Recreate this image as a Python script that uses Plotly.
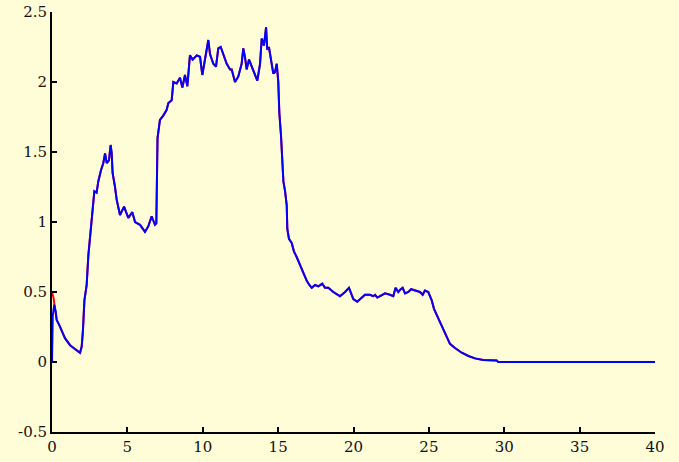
import plotly.graph_objects as go

# Blue series
blue_x = [0, 0.05, 0.15, 0.25, 0.31, 0.5, 0.86, 1.2, 1.5, 1.86, 1.97, 2.05, 2.15, 2.3, 2.41, 2.56, 2.63,
          2.81, 2.96, 3.07, 3.25, 3.4, 3.52, 3.63, 3.78, 3.89, 3.96, 4.02, 4.18, 4.29, 4.51, 4.78, 5.06,
          5.33, 5.51, 5.84, 6.17, 6.39, 6.61, 6.83, 6.92, 6.96, 7.0, 7.1, 7.16, 7.38, 7.6, 7.72, 7.94,
          8.05, 8.27, 8.49, 8.65, 8.82, 8.98, 9.15, 9.33, 9.6, 9.82, 9.97, 10.15, 10.37, 10.48, 10.7,
          10.88, 11.03, 11.19, 11.37, 11.59, 11.81, 11.92, 12.14, 12.36, 12.58, 12.69, 12.8, 12.91,
          13.07, 13.25, 13.47, 13.62, 13.8, 13.91, 14.06, 14.2, 14.28, 14.39, 14.51, 14.68, 14.79,
          14.91, 15.01, 15.08, 15.19, 15.28, 15.35, 15.46, 15.57, 15.61, 15.72, 15.9, 16.05, 16.23,
          16.45, 16.67, 16.9, 17.07, 17.23, 17.45, 17.67, 17.93, 18.11, 18.33, 18.66, 19.1, 19.44,
          19.7, 19.99, 20.25, 20.43, 20.76, 21.09, 21.31, 21.43, 21.58, 21.76, 22.09, 22.42, 22.64,
          22.79, 22.97, 23.13, 23.26, 23.42, 23.64, 23.82, 24.19, 24.41, 24.59, 24.74, 24.96, 25.19,
          25.34, 25.63, 25.96, 26.18, 26.4, 26.73, 27.18, 27.62, 28.06, 28.6, 29.5, 29.6, 40]
blue_y = [0, 0.33, 0.41, 0.36, 0.30, 0.26, 0.17, 0.12, 0.095, 0.066, 0.11, 0.22, 0.44, 0.55, 0.76, 0.94,
          1.04, 1.22, 1.21, 1.29, 1.37, 1.42, 1.49, 1.42, 1.44, 1.55, 1.49, 1.35, 1.25, 1.16, 1.05, 1.11,
          1.03, 1.07, 1.0, 0.98, 0.93, 0.97, 1.04, 0.98, 0.99, 1.35, 1.6, 1.68, 1.73, 1.76, 1.8, 1.85,
          1.87, 2.0, 1.99, 2.03, 1.96, 2.05, 1.97, 2.19, 2.16, 2.19, 2.18, 2.05, 2.15, 2.3, 2.2, 2.13,
          2.11, 2.24, 2.25, 2.2, 2.13, 2.09, 2.09, 2.0, 2.04, 2.13, 2.24, 2.18, 2.09, 2.16, 2.11, 2.05,
          2.01, 2.13, 2.31, 2.26, 2.39, 2.23, 2.25, 2.17, 2.06, 2.07, 2.13, 2.0, 1.78, 1.62, 1.44, 1.29,
          1.22, 1.12, 0.95, 0.88, 0.85, 0.79, 0.75, 0.69, 0.63, 0.58, 0.55, 0.53, 0.55, 0.54, 0.56, 0.53,
          0.53, 0.50, 0.47, 0.50, 0.53, 0.45, 0.43, 0.45, 0.48, 0.48, 0.47, 0.48, 0.46, 0.47, 0.49, 0.48,
          0.47, 0.53, 0.50, 0.52, 0.53, 0.49, 0.50, 0.52, 0.51, 0.50, 0.48, 0.51, 0.50, 0.44, 0.38, 0.31,
          0.24, 0.18, 0.13, 0.10, 0.066, 0.043, 0.026, 0.014, 0.01, 0.0, 0.0]

# Red series: differs from blue only at the start
red_start_x = [0, 0.1, 0.2]
red_start_y = [0.5, 0.46, 0.38]
red_x = red_start_x + blue_x[4:]
red_y = red_start_y + blue_y[4:]

x_ticks = [0, 5, 10, 15, 20, 25, 30, 35, 40]
y_ticks = [-0.5, 0, 0.5, 1, 1.5, 2, 2.5]
y_tick_labels = ["-0.5", "0", "0.5", "1", "1.5", "2", "2.5"]

fig = go.Figure()
fig.add_trace(go.Scatter(x=red_x, y=red_y, mode="lines",
                         line=dict(color="#FF0000", width=2), showlegend=False))
fig.add_trace(go.Scatter(x=blue_x, y=blue_y, mode="lines",
                         line=dict(color="#0000FF", width=2), showlegend=False))

tick_font = dict(family="DejaVu Serif", size=15, color="#111111")
bg = "#FFFDD8"
fig.update_layout(
    template="none",
    width=679, height=462,
    margin=dict(l=52, r=24, t=12, b=30, autoexpand=False),
    paper_bgcolor=bg, plot_bgcolor=bg,
    font=tick_font,
    showlegend=False,
)
fig.update_xaxes(range=[0, 40], tickvals=x_ticks, ticks="inside", ticklen=5, tickwidth=1.5,
                 tickcolor="black", showline=True, linecolor="black", linewidth=2,
                 showgrid=False, zeroline=False, automargin=False, tickfont=tick_font)
fig.update_yaxes(range=[-0.5, 2.5], tickvals=y_ticks, ticktext=y_tick_labels, ticks="inside",
                 ticklen=5, tickwidth=1.5, tickcolor="black", showline=True, linecolor="black",
                 linewidth=2, showgrid=False, zeroline=False, automargin=False, tickfont=tick_font)

fig.write_html("out.html")
